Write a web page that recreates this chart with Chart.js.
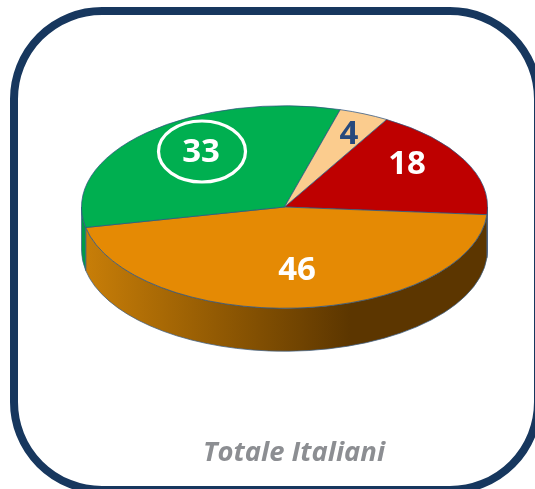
<!DOCTYPE html>
<html><head><meta charset="utf-8">
<script src="https://cdn.jsdelivr.net/npm/chart.js@4"></script>
<style>html,body{margin:0;padding:0;background:#fff;overflow:hidden}canvas{display:block}</style>
</head><body><canvas id="c" width="535" height="489"></canvas>
<script>
const categories = ['Rosso', 'Arancione', 'Verde', 'Altro'];
const values = [18, 46, 33, 4];
const colors = ['#BE0000', '#E58A04', '#00AF50', '#FBCC8E'];
const wallColors = ['#7a0000', null, '#009A48', '#c9a070'];
const labelColors = ['#ffffff', '#ffffff', '#ffffff', '#27497C'];
const labelAt = [[407,165],[297,271],[201,153],[349,135]];
const chartTitle = 'Totale Italiani';
const squash = 101.5 / 203.5, depth = 43;

const tilt = {
  id: 'tilt',
  beforeDraw(chart) {
    const g = chart.ctx;
    g.save();
    g.fillStyle = '#fff'; g.fillRect(0, 0, 535, 489);
    g.strokeStyle = '#17375E'; g.lineWidth = 8;
    g.beginPath(); g.roundRect(14, 11, 524, 479, 88); g.stroke();
    g.restore();
  },
  beforeDatasetsDraw(chart) {
    const g = chart.ctx, arcs = chart.getDatasetMeta(0).data;
    const cx = arcs[0].x, cy = arcs[0].y, r = arcs[0].outerRadius;
    g.save();
    g.translate(cx, cy); g.scale(1, squash); g.translate(-cx, -cy);
    const D = depth / squash;
    const grad = g.createLinearGradient(85, 0, 350, 0);
    grad.addColorStop(0, '#C87E08');
    grad.addColorStop(0.5, '#925A03');
    grad.addColorStop(1, '#5C3600');
    arcs.forEach((a, i) => {
      const s = Math.max(a.startAngle, 0), e = Math.min(a.endAngle, Math.PI);
      if (e <= s) return;
      g.beginPath();
      g.arc(cx, cy + D, r, s, e);
      g.arc(cx, cy, r, e, s, true);
      g.closePath();
      g.fillStyle = wallColors[i] || grad;
      g.fill();
      g.strokeStyle = '#3F6086'; g.lineWidth = 1; g.stroke();
    });
    g.restore();
    g.save();
    g.translate(cx, cy); g.scale(1, squash); g.translate(-cx, -cy);
  },
  afterDatasetsDraw(chart) {
    chart.ctx.restore();
  },
  afterDraw(chart) {
    const g = chart.ctx;
    g.save();
    g.textAlign = 'center'; g.textBaseline = 'middle';
    g.font = 'bold 33px "Open Sans"';
    values.forEach((v, i) => {
      g.fillStyle = labelColors[i];
      g.fillText(String(v), labelAt[i][0], labelAt[i][1]);
    });
    g.strokeStyle = '#fff'; g.lineWidth = 3.2;
    g.beginPath(); g.ellipse(202, 151.5, 43.5, 30.5, 0, 0, Math.PI * 2); g.stroke();
    g.font = 'italic bold 27.4px "Open Sans"';
    g.fillStyle = '#8C8E92';
    g.fillText(chartTitle, 294, 453);
    g.restore();
  }
};

new Chart(document.getElementById('c'), {
  type: 'doughnut',
  data: { labels: categories, datasets: [{
    data: values, backgroundColor: colors,
    borderColor: '#2F5580', borderWidth: 1, clip: false
  }]},
  options: {
    responsive: false, animation: false, cutout: 0, rotation: 30.2,
    layout: { padding: { left: 81, right: 47, top: 3.5, bottom: 78.5 } },
    plugins: { legend: { display: false }, tooltip: { enabled: false }, title: { display: false } }
  },
  plugins: [tilt]
});
</script></body></html>
